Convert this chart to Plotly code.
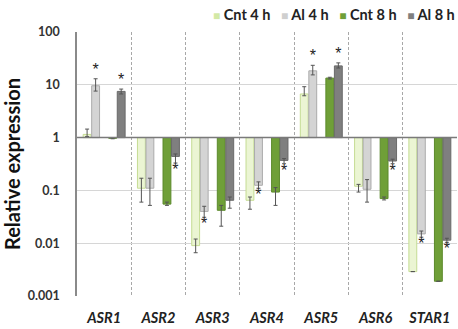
import plotly.graph_objects as go

genes = ["ASR1", "ASR2", "ASR3", "ASR4", "ASR5", "ASR6", "STAR1"]
series = ["Cnt 4 h", "Al 4 h", "Cnt 8 h", "Al 8 h"]

cnt4 = [1.15, 0.11, 0.009, 0.065, 6.7, 0.12, 0.0029]
cnt4_up = [0.3, 0.06, 0.003, 0.01, 2.5, 0.01, 0.0]
cnt4_dn = [0.1, 0.05, 0.0024, 0.021, 0.5, 0.027, 0.0]

al4 = [9.6, 0.11, 0.04, 0.125, 18.4, 0.105, 0.015]
al4_up = [3.4, 0.06, 0.01, 0.02, 5.0, 0.055, 0.002]
al4_dn = [2.0, 0.058, 0.009, 0.015, 3.0, 0.045, 0.002]

cnt8 = [0.97, 0.055, 0.042, 0.093, 13.4, 0.07, 0.0019]
cnt8_up = [0.02, 0.005, 0.01, 0.02, 0.5, 0.005, 0.0]
cnt8_dn = [0.02, 0.003, 0.021, 0.041, 0.5, 0.004, 0.0]

al8 = [7.5, 0.44, 0.065, 0.37, 22.8, 0.36, 0.0114]
al8_up = [0.8, 0.05, 0.01, 0.03, 3.2, 0.03, 0.001]
al8_dn = [0.8, 0.11, 0.019, 0.05, 2.0, 0.04, 0.001]

# significance stars (Al vs control)
al4_sig = [True, False, True, True, True, False, True]
al8_sig = [True, True, False, True, True, True, True]

ytick_vals = [0.001, 0.01, 0.1, 1, 10, 100]
ytick_text = ["0.001", "0.01", "0.1", "1", "10", "100"]

fills = ["#ebf5d3", "#d4d4d4", "#6f9f38", "#7f7f7f"]
lines = ["#c5dc93", "#ababab", "#5c8a2c", "#6a6a6a"]
legend_cols = ["#d3e9a6", "#cfcfcf", "#6f9f38", "#7f7f7f"]
slots = [-2, -1, 1, 2]
slot_w = 0.157
bar_w = 0.145

FONT = "Lato, 'Open Sans', Arial, sans-serif"

fig = go.Figure()
data = [(cnt4, cnt4_up, cnt4_dn), (al4, al4_up, al4_dn),
        (cnt8, cnt8_up, cnt8_dn), (al8, al8_up, al8_dn)]
xs = list(range(len(genes)))

for k, (vals, up, dn) in enumerate(data):
    off = slots[k] * slot_w
    fig.add_trace(go.Bar(
        x=xs, y=[v - 1 for v in vals], base=[1] * len(vals),
        offset=off - bar_w / 2, width=bar_w,
        name=series[k], showlegend=False,
        marker=dict(color=fills[k], line=dict(color=lines[k], width=1)),
        error_y=dict(type="data", symmetric=False, array=up, arrayminus=dn,
                     color="#555555", thickness=1, width=2),
    ))

for k, sig in [(1, al4_sig), (3, al8_sig)]:
    vals, up, dn = data[k]
    off = slots[k] * slot_w
    sx, sy, pos = [], [], []
    for i, s in enumerate(sig):
        if s:
            sx.append(i + off)
            if vals[i] >= 1:
                sy.append(vals[i] + up[i])
                pos.append("top center")
            else:
                sy.append(vals[i] - dn[i])
                pos.append("bottom center")
    fig.add_trace(go.Scatter(
        x=sx, y=sy, mode="text", text=["*"] * len(sx), textposition=pos,
        textfont=dict(size=16, color="#222222", family="Arial Black, Arial"),
        showlegend=False, hoverinfo="skip"))

# legend as a single text line built from series names and colours
legend_parts = []
for k, name in enumerate(series):
    legend_parts.append(
        f"<span style='color:{legend_cols[k]};font-size:12px'>■</span> {name}")
legend_text = "&nbsp;&nbsp;&nbsp;".join(legend_parts)
fig.add_annotation(xref="paper", yref="paper", x=1.0, y=1.065,
                   xanchor="right", yanchor="middle", showarrow=False,
                   text=f"<b>{legend_text}</b>",
                   font=dict(family=FONT, size=14.5, color="#222222"))

fig.add_shape(type="line", xref="paper", yref="y", x0=0, x1=1, y0=1, y1=1,
              line=dict(color="#7a7a7a", width=1.5))

fig.update_layout(
    width=458, height=329,
    margin=dict(l=77, r=1, t=32, b=33),
    paper_bgcolor="white", plot_bgcolor="white",
    font=dict(family=FONT, color="#222222"),
    barmode="overlay",
    xaxis=dict(range=[-0.5, 6.5], tickvals=xs,
               ticktext=[f"<b><i>{g}</i></b>" for g in genes],
               tickfont=dict(size=14.5, color="#222222"),
               showgrid=False, zeroline=False, ticks="", ticklabelstandoff=11,
               minor=dict(tickvals=[i - 0.5 for i in range(len(genes) + 1)],
                          showgrid=True, gridcolor="#a8a8a8",
                          griddash="3px,2px", gridwidth=1, ticks="")),
    yaxis=dict(type="log", range=[-3, 2], tickvals=ytick_vals,
               ticktext=[f"<b>{t}</b>" for t in ytick_text],
               tickfont=dict(size=12.5, color="#333333"),
               showgrid=True, gridcolor="#d6d6d6", gridwidth=1,
               showline=True, linecolor="#8a8a8a", linewidth=1.5,
               ticks="", ticklabelstandoff=13,
               title=dict(text="<b>Relative expression</b>", standoff=8,
                          font=dict(size=20, color="#111111", family=FONT))),
)

fig.write_html("out.html")
